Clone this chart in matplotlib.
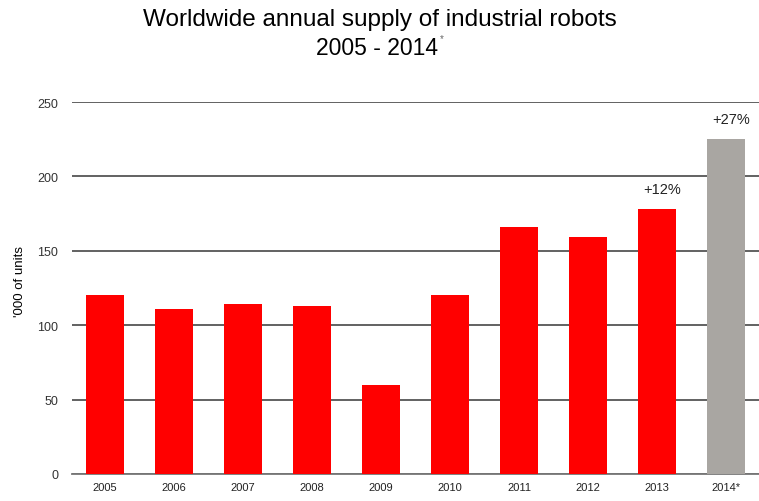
import matplotlib.pyplot as plt

plt.rcParams['font.family'] = ['Liberation Sans', 'DejaVu Sans']

years = ['2005', '2006', '2007', '2008', '2009', '2010', '2011', '2012', '2013', '2014*']
units = [120, 111, 114, 113, 60, 120, 166, 159, 178, 225]
colors = ['#ff0000'] * 9 + ['#a9a6a2']
growth_labels = {8: '+12%', 9: '+27%'}

fig = plt.figure(figsize=(7.59, 5.02), dpi=100)
ax = fig.add_axes([72 / 759, 27 / 502, 687 / 759, 372 / 502])

x = range(len(years))
ax.bar(x, units, width=0.55, color=colors, zorder=3)

for i, txt in growth_labels.items():
    ax.text(i + 0.08, units[i] + 9, txt, ha='center', va='bottom', fontsize=10.5, color='#222222')

ax.set_xlim(-0.48, len(years) - 0.52)
ax.set_ylim(0, 250)
ax.set_yticks(range(0, 251, 50))
ax.set_xticks(list(x))
ax.set_xticklabels(years, fontsize=8)
ax.tick_params(axis='y', labelsize=9, length=0, pad=10, labelcolor='#333333')
ax.tick_params(axis='x', length=0, pad=6, labelcolor='#222222')
ax.grid(axis='y', color='#555555', linewidth=1.3, zorder=0)
ax.set_axisbelow(True)
for s in ['top', 'right', 'left']:
    ax.spines[s].set_visible(False)
ax.spines['bottom'].set_color('#777777')
ax.spines['bottom'].set_linewidth(1.3)

ax.set_ylabel("'000 of units", fontsize=9.5)
ax.yaxis.set_label_coords((26 - 72) / 687, 0.52)

fig.text(0.5, 0.96, 'Worldwide annual supply of industrial robots', ha='center', va='center', fontsize=17.5)
fig.text(0.497, 0.904, '2005 - 2014', ha='center', va='center', fontsize=16.5)
fig.text(0.579, 0.922, '*', ha='left', va='center', fontsize=7, color='#666666')

fig.savefig('out.png', dpi=100)
